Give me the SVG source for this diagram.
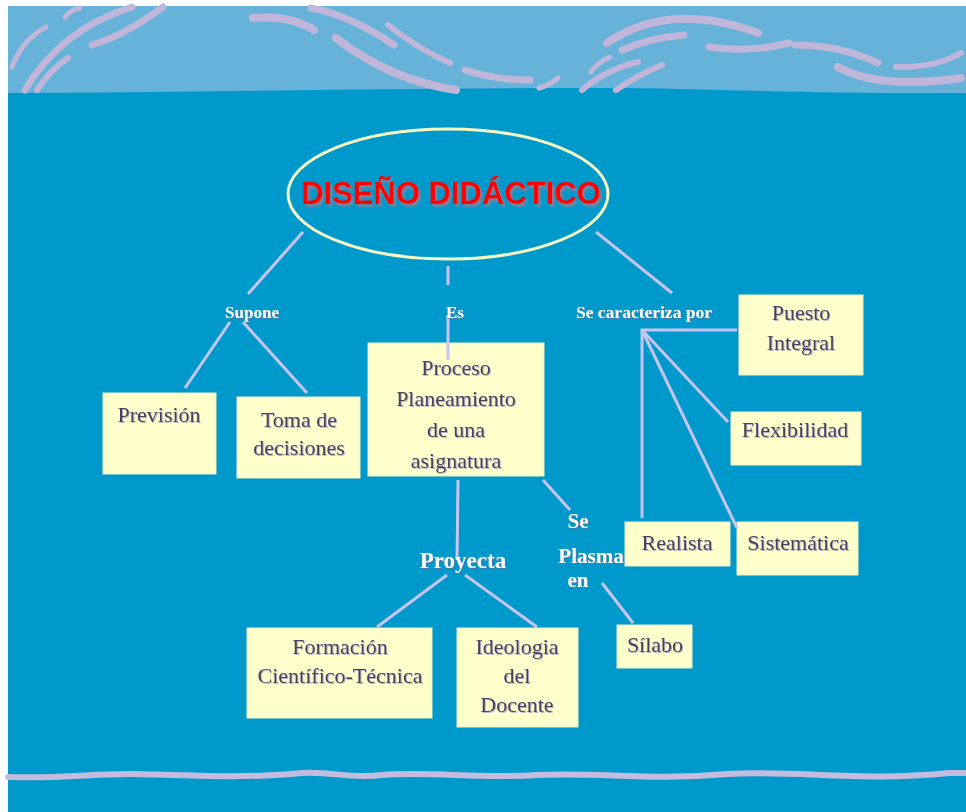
<svg xmlns="http://www.w3.org/2000/svg" width="966" height="812" viewBox="0 0 966 812">
  <defs>
    <filter id="soft" x="-10%" y="-10%" width="120%" height="130%">
      <feDropShadow dx="1" dy="1" stdDeviation="0.4" flood-color="#b6a8c8" flood-opacity="0.9"/>
    </filter>
    <filter id="lblShadow" x="-10%" y="-10%" width="120%" height="130%">
      <feDropShadow dx="1" dy="1" stdDeviation="0.3" flood-color="#5b6f9a" flood-opacity="0.8"/>
    </filter>
    <filter id="titleShadow" x="-5%" y="-20%" width="110%" height="150%">
      <feDropShadow dx="2" dy="3" stdDeviation="1.2" flood-color="#8a7f98" flood-opacity="0.9"/>
    </filter>
  </defs>
  <style>
    .swoosh { fill: none; stroke: #bfb6da; stroke-linecap: round; }
    .box { fill: #ffffcc; stroke: #eef0c4; stroke-width: 1; }
    .btxt { font-family: "Liberation Serif", "Times New Roman", serif; font-size: 22px; fill: #4b3d5e; text-anchor: middle; filter: url(#soft); }
    .lbl { font-family: "Liberation Serif", "Times New Roman", serif; font-weight: bold; fill: #ffffff; text-anchor: middle; filter: url(#lblShadow); }
    .conn { fill: none; stroke: #c8c4f4; stroke-width: 3; stroke-linecap: butt; }
  </style>

  <!-- background: white margin, light top band, deep blue field -->
  <rect x="0" y="0" width="966" height="812" fill="#ffffff"/>
  <rect x="8" y="6" width="958" height="806" fill="#66b2d8"/>
  <path d="M8,93 C200,92 400,88 600,88 C700,88 800,94 966,93 L966,812 L8,812 Z" fill="#0099cc"/>

  <!-- decorative swooshes in the top band -->
  <g id="band-decor">
    <path class="swoosh" stroke-width="5" d="M12,67 Q22,40 46,27"/>
    <path class="swoosh" stroke-width="7" d="M25,90 Q60,30 132,7"/>
    <path class="swoosh" stroke-width="7" d="M92,45 Q125,35 163,7"/>
    <path class="swoosh" stroke-width="5" d="M65,17 Q70,10 80,8"/>
    <path class="swoosh" stroke-width="6" d="M37,90 Q50,70 68,58"/>
    <path class="swoosh" stroke-width="8" d="M253,18 Q290,15 314,30"/>
    <path class="swoosh" stroke-width="7" d="M311,8 Q350,15 394,45"/>
    <path class="swoosh" stroke-width="8" d="M336,38 Q390,80 456,90"/>
    <path class="swoosh" stroke-width="6" d="M388,25 Q420,50 450,63"/>
    <path class="swoosh" stroke-width="7" d="M465,70 Q495,80 530,80"/>
    <path class="swoosh" stroke-width="5" d="M539,88 Q550,85 558,78"/>
    <path class="swoosh" stroke-width="8" d="M607,43 Q670,0 758,33"/>
    <path class="swoosh" stroke-width="7" d="M622,50 Q650,38 684,35"/>
    <path class="swoosh" stroke-width="5" d="M591,72 Q598,62 610,57"/>
    <path class="swoosh" stroke-width="6" d="M582,90 Q605,70 638,62"/>
    <path class="swoosh" stroke-width="6" d="M616,90 Q638,75 662,65"/>
    <path class="swoosh" stroke-width="7" d="M709,47 Q750,53 789,43"/>
    <path class="swoosh" stroke-width="7" d="M795,45 Q840,45 878,63"/>
    <path class="swoosh" stroke-width="8" d="M838,67 Q880,90 961,78"/>
    <path class="swoosh" stroke-width="6" d="M896,67 Q935,68 961,53"/>
  </g>

  <!-- wavy line near the bottom -->
  <path d="M8,777 C60,779 100,773 135,774 C180,775 240,779 302,773 C330,771 350,779 382,775 C430,771 480,779 536,775 C600,772 650,781 727,774 C800,770 860,782 949,773 L966,773" fill="none" stroke="#c4bcdc" stroke-width="6" stroke-linecap="round"/>

  <!-- central concept -->
  <g id="diseno">
    <ellipse cx="448" cy="194" rx="160" ry="65" fill="none" stroke="#f6f8c4" stroke-width="3"/>
    <text x="451" y="204" font-family="'Liberation Sans', Arial, sans-serif" font-weight="bold" font-size="31" fill="#ff0000" text-anchor="middle" filter="url(#titleShadow)">DISEÑO DIDÁCTICO</text>
  </g>

  <!-- label partially covered by the Realista box -->
  <g id="lbl-plasma">
    <text class="lbl" font-size="21" x="591" y="563">Plasma</text>
  </g>

  <g id="prevision">
    <rect class="box" x="103" y="393" width="113" height="81"/>
    <text class="btxt" x="159" y="422">Previsión</text>
  </g>
  <g id="toma">
    <rect class="box" x="237" y="397" width="123" height="81"/>
    <text class="btxt" x="299" y="427">Toma de</text>
    <text class="btxt" x="299" y="455">decisiones</text>
  </g>
  <g id="proceso">
    <rect class="box" x="368" y="343" width="176" height="133"/>
    <text class="btxt" font-size="23.5" x="456" y="375">Proceso</text>
    <text class="btxt" font-size="23.5" x="456" y="406">Planeamiento</text>
    <text class="btxt" font-size="23.5" x="456" y="437">de una</text>
    <text class="btxt" font-size="23.5" x="456" y="468">asignatura</text>
  </g>
  <g id="puesto">
    <rect class="box" x="739" y="295" width="124" height="80"/>
    <text class="btxt" x="801" y="320">Puesto</text>
    <text class="btxt" x="801" y="350">Integral</text>
  </g>
  <g id="flexibilidad">
    <rect class="box" x="731" y="412" width="130" height="53"/>
    <text class="btxt" x="795" y="437">Flexibilidad</text>
  </g>
  <g id="realista">
    <rect class="box" x="625" y="522" width="105" height="44"/>
    <text class="btxt" x="677" y="550">Realista</text>
  </g>
  <g id="sistematica">
    <rect class="box" x="737" y="522" width="121" height="53"/>
    <text class="btxt" x="798" y="550">Sistemática</text>
  </g>
  <g id="formacion">
    <rect class="box" x="247" y="628" width="185" height="90"/>
    <text class="btxt" x="340" y="654">Formación</text>
    <text class="btxt" x="340" y="683">Científico-Técnica</text>
  </g>
  <g id="ideologia">
    <rect class="box" x="457" y="628" width="121" height="99"/>
    <text class="btxt" x="517" y="654">Ideologia</text>
    <text class="btxt" x="517" y="683">del</text>
    <text class="btxt" x="517" y="712">Docente</text>
  </g>
  <g id="silabo">
    <rect class="box" x="617" y="625" width="75" height="43"/>
    <text class="btxt" x="655" y="652">Sílabo</text>
  </g>

  <!-- connectors -->
  <g id="connectors">
    <path class="conn" d="M303,232 L248,294"/>
    <path class="conn" d="M230,322 L185,388"/>
    <path class="conn" d="M243,322 L307,393"/>
    <path class="conn" d="M448,266 L448,285"/>
    <path class="conn" d="M448,315 L448,360"/>
    <path class="conn" d="M596,232 L672,293"/>
    <path class="conn" d="M737,330 L642,330 L642,518"/>
    <path class="conn" d="M642,330 L728,422"/>
    <path class="conn" d="M642,330 L737,528"/>
    <path class="conn" d="M458,480 L457,560"/>
    <path class="conn" d="M447,575 L377,627"/>
    <path class="conn" d="M465,575 L537,627"/>
    <path class="conn" d="M543,480 L570,510"/>
    <path class="conn" d="M602,583 L633,623"/>
  </g>

  <!-- connector labels -->
  <g id="labels">
    <text class="lbl" font-size="17" x="252" y="318">Supone</text>
    <text class="lbl" font-size="17" x="455" y="318">Es</text>
    <text class="lbl" font-size="17.5" x="644" y="318">Se caracteriza por</text>
    <text class="lbl" font-size="21" x="578" y="528">Se</text>
    <text class="lbl" font-size="21" x="578" y="587">en</text>
    <text class="lbl" font-size="23" x="463" y="568">Proyecta</text>
  </g>
</svg>
